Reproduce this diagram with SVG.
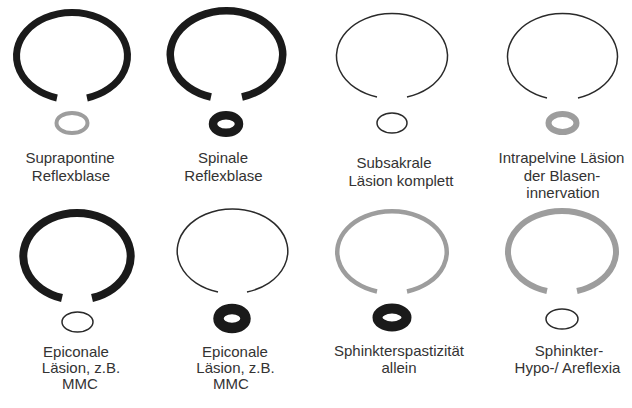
<svg xmlns="http://www.w3.org/2000/svg" width="632" height="408" viewBox="0 0 632 408">
<style>
.bg{fill:#fff}
.blk{fill:none;stroke:#1a1a1a;stroke-linecap:butt}
.thin{fill:none;stroke:#2a2a2a;stroke-width:1.5}
.gry{fill:none;stroke:#9d9d9d}
.lbl{font-family:"Liberation Sans",Arial,Helvetica,sans-serif;font-size:15px;fill:#333;text-anchor:middle}
</style>
<rect class="bg" x="0" y="0" width="632" height="408"/>

<g id="n1">
<path class="blk" stroke-width="7" d="M57 98 A55.5 43.6 0 1 1 87 98"/>
<ellipse class="gry" stroke="#aaa" stroke-width="4" cx="72" cy="123" rx="15.5" ry="10"/>
<text class="lbl" x="70" y="163">Suprapontine</text>
<text class="lbl" x="71" y="181">Reflexblase</text>
</g>

<g id="n2">
<path class="blk" stroke-width="7.5" d="M211 97 A56.25 44 0 1 1 242 97"/>
<ellipse class="blk" stroke-width="8.5" cx="226" cy="124" rx="13" ry="8.8"/>
<text class="lbl" x="223" y="163">Spinale</text>
<text class="lbl" x="223.5" y="181">Reflexblase</text>
</g>

<g id="n3">
<path class="thin" d="M377 97 A55.5 42.5 0 1 1 407 97"/>
<ellipse class="thin" stroke-width="1.3" cx="392" cy="123" rx="15" ry="10"/>
<text class="lbl" x="394" y="168">Subsakrale</text>
<text class="lbl" x="401" y="186">Läsion komplett</text>
</g>

<g id="n4">
<path class="thin" d="M547 98 A55 43.1 0 1 1 578 98"/>
<ellipse class="gry" stroke-width="6" cx="562.5" cy="123" rx="14" ry="9"/>
<text class="lbl" x="561.5" y="163">Intrapelvine Läsion</text>
<text class="lbl" x="562" y="181">der Blasen-</text>
<text class="lbl" x="563" y="198">innervation</text>
</g>

<g id="n5">
<path class="blk" stroke-width="8" d="M62 298 A53.7 43.4 0 1 1 92 298"/>
<ellipse class="thin" stroke-width="1.3" cx="77.5" cy="322" rx="15.5" ry="10"/>
<text class="lbl" x="76" y="357">Epiconale</text>
<text class="lbl" x="81" y="373">Läsion, z.B.</text>
<text class="lbl" x="80" y="389">MMC</text>
</g>

<g id="n6">
<path class="thin" d="M218 292 A55.3 42.3 0 1 1 247 292"/>
<ellipse class="blk" stroke-width="10.5" cx="232" cy="318.5" rx="13.5" ry="9.5"/>
<text class="lbl" x="235" y="357">Epiconale</text>
<text class="lbl" x="235.5" y="373">Läsion, z.B.</text>
<text class="lbl" x="231" y="389">MMC</text>
</g>

<g id="n7">
<path class="gry" stroke-width="4.5" d="M377 291.5 A54.75 40.9 0 1 1 407 291.5"/>
<ellipse class="blk" stroke-width="10" cx="392" cy="317.5" rx="14.5" ry="9"/>
<text class="lbl" x="399" y="356">Sphinkterspastizität</text>
<text class="lbl" x="399" y="373">allein</text>
</g>

<g id="n8">
<path class="gry" stroke-width="6" d="M547 291 A54 40.8 0 1 1 577 291"/>
<ellipse class="thin" stroke-width="1.3" cx="562" cy="319" rx="16" ry="10"/>
<text class="lbl" x="569" y="356">Sphinkter-</text>
<text class="lbl" x="567.5" y="373">Hypo-/ Areflexia</text>
</g>
</svg>
